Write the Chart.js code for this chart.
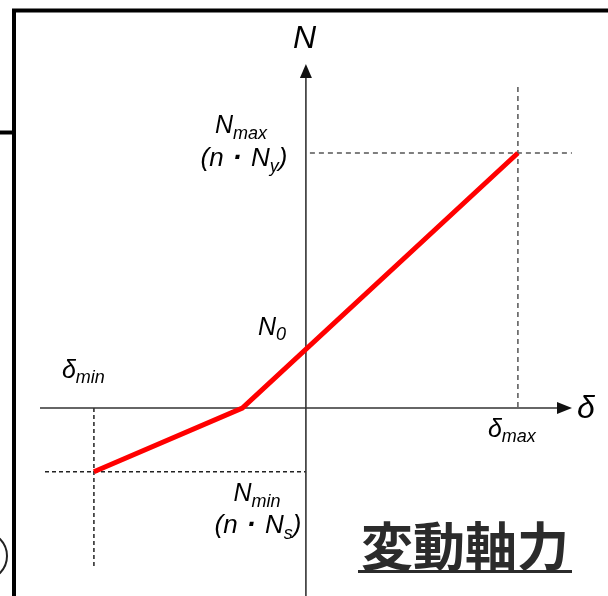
<!DOCTYPE html>
<html>
<head>
<meta charset="utf-8">
<script src="https://cdn.jsdelivr.net/npm/chart.js@4.4.1/dist/chart.umd.min.js"></script>
<style>
  html, body { margin: 0; padding: 0; background: #fff; }
</style>
</head>
<body>
<canvas id="axialChart" width="608" height="596"></canvas>
<script>
// Varying axial force model: δ (normalised to δmax) vs N (normalised to Nmax)
const deltaValues = [-1.0, -0.30, 1.0];   // δmin, break point, δmax
const axialValues = [-0.25, 0, 1.0];      // Nmin, 0, Nmax
const n0Value = 0.23;                      // N at δ = 0
const chartTitle = '変動軸力';

const INK = '#333';
const LABEL_FONT = '"Liberation Sans", Arial, sans-serif';

// draw a label made of pieces (main text + subscripts), anchored at x by align
function drawPieces(ctx, pieces, x, y, align) {
    let total = 0;
    pieces.forEach(p => {
        ctx.font = (p.weight || '') + ' italic ' + p.size + 'px ' + LABEL_FONT;
        p.w = ctx.measureText(p.text).width + (p.gap || 0) * 2;
        total += p.w;
    });
    let cx = align === 'center' ? x - total / 2 : x;
    ctx.textAlign = 'left';
    ctx.textBaseline = 'alphabetic';
    pieces.forEach(p => {
        ctx.font = (p.weight || '') + ' italic ' + p.size + 'px ' + LABEL_FONT;
        ctx.fillText(p.text, cx + (p.gap || 0), y + (p.dy || 0));
        cx += p.w;
    });
}

function productLabel(sub) {
    return [
        { text: '(n', size: 26 },
        { text: '·', size: 28, gap: 9, weight: 'bold' },
        { text: 'N', size: 26 },
        { text: sub, size: 18, dy: 6 },
        { text: ')', size: 26 }
    ];
}

function seg(ctx, x1, y1, x2, y2) {
    ctx.beginPath();
    ctx.moveTo(x1, y1);
    ctx.lineTo(x2, y2);
    ctx.stroke();
}

const diagramPlugin = {
    id: 'diagram',
    beforeDatasetsDraw(chart) {
        const ctx = chart.ctx;
        const xs = chart.scales.x, ys = chart.scales.y;
        const ox = xs.getPixelForValue(0), oy = ys.getPixelForValue(0);
        const xMin = xs.getPixelForValue(deltaValues[0]);
        const xMax = xs.getPixelForValue(deltaValues[2]);
        const yMin = ys.getPixelForValue(axialValues[0]);
        const yMax = ys.getPixelForValue(axialValues[2]);

        ctx.save();
        // frame of the slide
        ctx.strokeStyle = '#000';
        ctx.lineWidth = 4;
        ctx.beginPath();
        ctx.moveTo(608, 10.5);
        ctx.lineTo(14, 10.5);
        ctx.lineTo(14, 596);
        ctx.stroke();
        seg(ctx, 0, 132.5, 14, 132.5);
        ctx.lineWidth = 2;
        ctx.strokeStyle = '#222';
        ctx.beginPath();
        ctx.arc(-17, 556, 24, -Math.PI / 2, Math.PI / 2);
        ctx.stroke();

        // dashed guide lines
        ctx.lineWidth = 1.5;
        ctx.strokeStyle = '#555';
        ctx.setLineDash([5, 4]);
        seg(ctx, ox + 4, yMax, xMax + 54, yMax);
        seg(ctx, xMax, yMax - 66, xMax, oy);
        ctx.strokeStyle = '#222';
        ctx.setLineDash([4, 3]);
        seg(ctx, 45, yMin, ox, yMin);
        seg(ctx, xMin, oy, xMin, yMin + 95);
        ctx.setLineDash([]);

        // axes with arrowheads
        ctx.strokeStyle = INK;
        ctx.fillStyle = '#111';
        ctx.lineWidth = 1.6;
        seg(ctx, 40, oy, 560, oy);
        seg(ctx, ox, 596, ox, 74);
        ctx.beginPath();
        ctx.moveTo(572, oy);
        ctx.lineTo(557, oy - 6);
        ctx.lineTo(557, oy + 6);
        ctx.closePath();
        ctx.fill();
        ctx.beginPath();
        ctx.moveTo(ox, 64);
        ctx.lineTo(ox - 6, 78);
        ctx.lineTo(ox + 6, 78);
        ctx.closePath();
        ctx.fill();
        ctx.restore();
    },
    afterDraw(chart) {
        const ctx = chart.ctx;
        const xs = chart.scales.x, ys = chart.scales.y;
        const ox = xs.getPixelForValue(0), oy = ys.getPixelForValue(0);
        const xMin = xs.getPixelForValue(deltaValues[0]);
        const xMax = xs.getPixelForValue(deltaValues[2]);
        const yMin = ys.getPixelForValue(axialValues[0]);
        const yMax = ys.getPixelForValue(axialValues[2]);
        const yN0 = ys.getPixelForValue(n0Value);

        ctx.save();
        ctx.fillStyle = '#000';
        // axis names
        drawPieces(ctx, [{ text: 'N', size: 32 }], ox - 13, 48, 'left');
        drawPieces(ctx, [{ text: 'δ', size: 32 }], 577, oy + 10, 'left');

        // Nmax
        drawPieces(ctx, [{ text: 'N', size: 25 }, { text: 'max', size: 18, dy: 6 }], ox - 65, yMax - 20, 'center');
        drawPieces(ctx, productLabel('y'), ox - 62, yMax + 13, 'center');
        // N0
        drawPieces(ctx, [{ text: 'N', size: 25 }, { text: '0', size: 18, dy: 5 }], ox - 48, yN0 - 14, 'left');
        // δmin, δmax
        drawPieces(ctx, [{ text: 'δ', size: 25 }, { text: 'min', size: 18, dy: 5 }], xMin - 32, oy - 30, 'left');
        drawPieces(ctx, [{ text: 'δ', size: 25 }, { text: 'max', size: 18, dy: 5 }], xMax - 30, oy + 29, 'left');
        // Nmin
        drawPieces(ctx, [{ text: 'N', size: 25 }, { text: 'min', size: 18, dy: 6 }], ox - 49, yMin + 29, 'center');
        drawPieces(ctx, productLabel('s'), ox - 48, yMin + 61, 'center');

        // title with underline
        ctx.font = 'bold 52px "Noto Sans CJK JP", sans-serif';
        ctx.fillStyle = '#2b2b2b';
        ctx.textAlign = 'center';
        ctx.textBaseline = 'middle';
        ctx.fillText(chartTitle, 465, 546);
        ctx.strokeStyle = '#2b2b2b';
        ctx.lineWidth = 3;
        seg(ctx, 358, 571.5, 572, 571.5);
        ctx.restore();
    }
};

const ctx = document.getElementById('axialChart').getContext('2d');
new Chart(ctx, {
    type: 'line',
    data: {
        datasets: [{
            label: 'N',
            data: deltaValues.map((d, i) => ({ x: d, y: axialValues[i] })),
            borderColor: '#ff0000',
            borderWidth: 5,
            pointRadius: 0,
            tension: 0,
            fill: false
        }]
    },
    options: {
        responsive: false,
        animation: false,
        layout: { padding: 0 },
        scales: {
            x: { type: 'linear', display: false, min: -1.443, max: 1.425 },
            y: { type: 'linear', display: false, min: -0.737, max: 1.6 }
        },
        plugins: {
            legend: { display: false },
            tooltip: { enabled: false }
        }
    },
    plugins: [diagramPlugin]
});
</script>
</body>
</html>
